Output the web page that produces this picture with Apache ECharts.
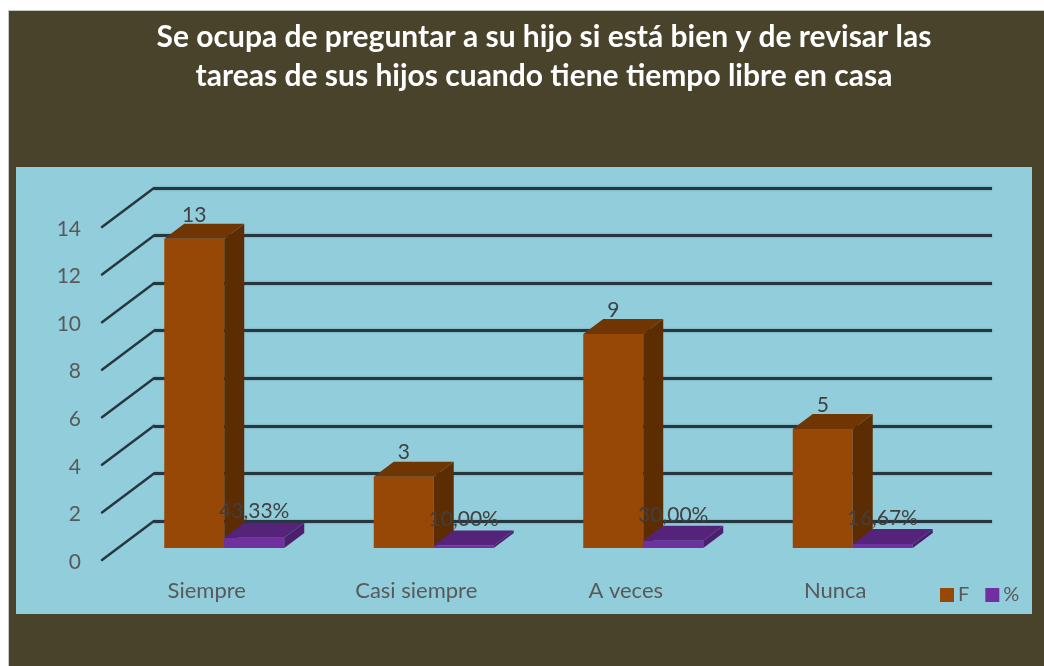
<!DOCTYPE html>
<html>
<head>
<meta charset="utf-8">
<title>Se ocupa de preguntar</title>
<script src="https://cdn.jsdelivr.net/npm/echarts@6/dist/echarts.min.js"></script>
<style>
    html, body { margin: 0; background: #fff; overflow: hidden; }
    .panel { position: absolute; left: 8px; top: 10px; right: 0; bottom: 0; background: #4a432c; border-left: 1px solid #c8c8c8; border-top: 1px solid #c8c8c8; }
    .plot { position: absolute; left: 16px; top: 167px; width: 1016px; height: 447px; background: #92cddc; }
    #chart { position: absolute; left: 0; top: 0; width: 1044px; height: 666px; }
</style>
</head>
<body>
<div class="panel"></div>
<div class="plot"></div>
<div id="chart"></div>
<script>
const titleText = 'Se ocupa de preguntar a su hijo si está bien y de revisar las\ntareas de sus hijos cuando tiene tiempo libre en casa'
const categories = ['Siempre', 'Casi siempre', 'A veces', 'Nunca']
const fValues = [13, 3, 9, 5]
const pctValues = [0.4333, 0.1, 0.3, 0.1667]
const pctLabels = ['43,33%', '10,00%', '30,00%', '16,67%']
const yTicks = [0, 2, 4, 6, 8, 10, 12, 14]

const font = 'Lato'
const barW = 60
// depth of one bar, drawn as an oblique offset
const depth = [20, -15]

const gridBase = { width: 838, height: 333 }

const hiddenX = (gridIndex) => ({
    type: 'category',
    gridIndex,
    data: categories,
    axisLine: { show: false },
    axisTick: { show: false },
    axisLabel: { show: false },
})

const hiddenY = (gridIndex, splitLine) => ({
    type: 'value',
    gridIndex,
    min: 0,
    max: 14,
    interval: 2,
    axisLine: { show: false },
    axisTick: { show: false },
    axisLabel: { show: false },
    splitLine,
})

const wallLine = { color: '#263740', width: 3, shadowColor: 'rgba(30,50,60,0.4)', shadowBlur: 2 }

// bar as three faces; side = 0 left of the category centre, 1 right of it
const renderBar = (side, colors, labels) => (params, api) => {
    const i = api.value(0)
    const v = api.value(1)
    const top = api.coord([i, v])
    const base = api.coord([i, 0])
    const x0 = top[0] + (side - 1) * barW
    const x1 = x0 + barW
    const [dx, dy] = depth
    const poly = (points, fill) => ({
        type: 'polygon',
        shape: { points },
        style: { fill },
    })
    return {
        type: 'group',
        children: [
            poly([[x0, top[1]], [x1, top[1]], [x1, base[1]], [x0, base[1]]], colors.front),
            poly([[x1, top[1]], [x1 + dx, top[1] + dy], [x1 + dx, base[1] + dy], [x1, base[1]]], colors.side),
            poly([[x0, top[1]], [x0 + dx, top[1] + dy], [x1 + dx, top[1] + dy], [x1, top[1]]], colors.top),
            {
                type: 'text',
                z2: 10,
                style: {
                    x: (x0 + x1) / 2,
                    y: top[1] + (side ? -26 : -24),
                    text: labels[params.dataIndex],
                    fill: '#404040',
                    font: '21px ' + font,
                    align: 'center',
                    verticalAlign: 'middle',
                },
            },
        ],
    }
}

// oblique part of each wall line, from back wall to the front plane
const renderDiagonal = (params, api) => {
    const y = api.coord([0, api.value(1)])[1]
    const x = params.coordSys.x
    return {
        type: 'line',
        shape: { x1: x, y1: y, x2: x - 52, y2: y + 39 },
        style: { stroke: wallLine.color, lineWidth: 2.5, lineCap: 'round' },
    }
}

const chart = echarts.init(document.getElementById('chart'))

chart.setOption({
    backgroundColor: 'transparent',
    animation: false,
    title: {
        text: titleText,
        left: 539,
        top: 13,
        textAlign: 'center',
        textStyle: { color: '#fff', fontFamily: font, fontWeight: 'bold', fontSize: 30, lineHeight: 39 },
    },
    legend: {
        left: 935,
        top: 580,
        itemWidth: 14,
        itemHeight: 14,
        itemGap: 16,
        icon: 'rect',
        data: ['F', '%'],
        selectedMode: false,
        textStyle: { color: '#595959', fontFamily: font, fontSize: 20, padding: [0, 0, 0, -1] },
    },
    grid: [
        { left: 154, top: 188, ...gridBase },
        { left: 102, top: 229, ...gridBase },
        { left: 119.5, top: 215, ...gridBase },
    ],
    xAxis: [
        hiddenX(0),
        {
            type: 'category',
            gridIndex: 1,
            data: categories,
            axisLine: { show: false },
            axisTick: { show: false },
            axisLabel: { color: '#595959', fontFamily: font, fontSize: 22, margin: 18 },
        },
        hiddenX(2),
    ],
    yAxis: [
        hiddenY(0, { show: true, lineStyle: wallLine }),
        {
            type: 'value',
            gridIndex: 1,
            min: 0,
            max: 14,
            interval: 2,
            axisLine: { show: false },
            axisTick: { show: false },
            splitLine: { show: false },
            axisLabel: { color: '#595959', fontFamily: font, fontSize: 21, margin: 21 },
        },
        hiddenY(2, { show: false }),
    ],
    series: [
        {
            type: 'custom',
            name: 'walls',
            xAxisIndex: 0,
            yAxisIndex: 0,
            silent: true,
            z: 1,
            clip: false,
            renderItem: renderDiagonal,
            data: yTicks.map((t) => [0, t]),
        },
        {
            type: 'custom',
            name: 'F',
            xAxisIndex: 2,
            yAxisIndex: 2,
            z: 3,
            clip: false,
            itemStyle: { color: '#974706' },
            renderItem: renderBar(0, { front: '#974706', top: '#6f3503', side: '#5c2c03' }, fValues),
            data: fValues.map((v, i) => [i, v]),
        },
        {
            type: 'custom',
            name: '%',
            xAxisIndex: 2,
            yAxisIndex: 2,
            z: 4,
            clip: false,
            itemStyle: { color: '#7030a0' },
            renderItem: renderBar(1, { front: '#7030a0', top: '#55237a', side: '#4b1f6d' }, pctLabels),
            data: pctValues.map((v, i) => [i, v]),
        },
    ],
})
</script>
</body>
</html>
